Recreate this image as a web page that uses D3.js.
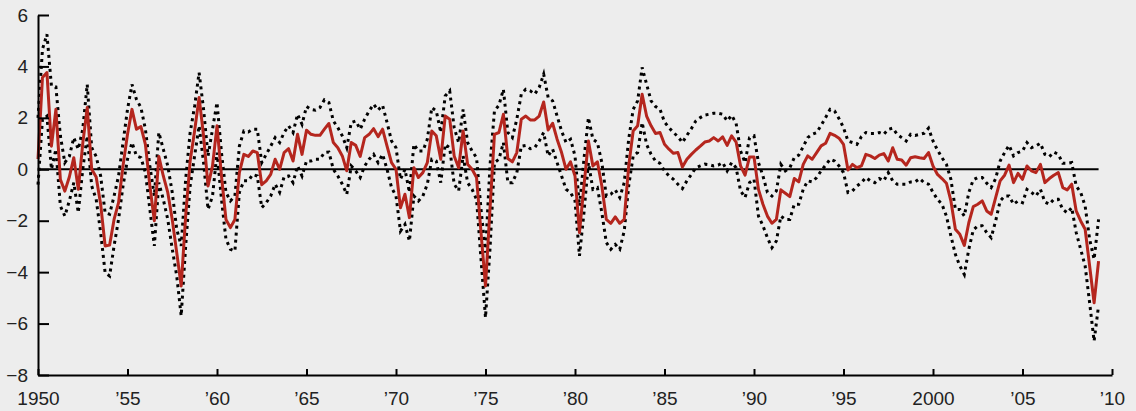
<!DOCTYPE html>
<html>
<head>
<meta charset="utf-8">
<script src="https://cdn.jsdelivr.net/npm/d3@7"></script>
<style>
  html, body { margin: 0; padding: 0; background: #ededed; }
  .canvas text { font-family: "Liberation Sans", Arial, sans-serif; font-size: 19px; fill: #222; }
</style>
</head>
<body>
<div class="canvas"></div>
<script>
// quarterly values, 1950 Q1 .. 2009 Q2 (four per row = one year)
const startYear = 1950

const central = [
  0.4, 3.57, 3.76, 0.9,
  2.33, -0.4, -0.85, -0.3,
  0.45, -0.78, 1.0, 2.4,
  0.0, -0.3, -1.36, -2.98,
  -2.95, -1.95, -1.3, 0.13,
  1.36, 2.33, 1.56, 1.66,
  0.97, -0.65, -2.0, 0.5,
  -0.26, -0.9, -1.95, -3.24,
  -4.54, -1.8, 0.32, 1.5,
  2.79, 1.3, -0.65, 0.13,
  1.69, -0.26, -1.95, -2.27,
  -1.95, -0.13, 0.58, 0.5,
  0.71, 0.65, -0.6, -0.45,
  -0.2, 0.39, 0.0, 0.65,
  0.8, 0.32, 1.36, 0.58,
  1.52, 1.36, 1.32, 1.32,
  1.56, 1.78, 1.04, 0.84,
  0.52, -0.06, 1.04, 0.93,
  0.5, 1.23, 1.36, 1.58,
  1.27, 1.56, 0.9, 0.26,
  0.0, -1.5, -0.97, -1.88,
  0.06, -0.32, -0.13, 0.26,
  1.49, 1.3, 0.39, 2.07,
  1.95, 0.52, 0.06, 1.49,
  0.2, 0.0, -0.32, -2.46,
  -4.54, -1.56, 1.36, 1.43,
  2.14, 0.42, 0.29, 0.65,
  1.95, 2.07, 1.92, 1.92,
  2.07, 2.62, 1.53, 1.79,
  1.17, 0.65, 0.0, 0.29,
  -0.26, -2.46, -0.65, 1.1,
  0.13, 0.29, -0.65, -1.95,
  -2.1, -1.85, -2.1, -1.95,
  0.13, 1.49, 1.69, 2.92,
  2.07, 1.69, 1.39, 1.43,
  0.97, 0.78, 0.62, 0.65,
  0.09, 0.39, 0.58, 0.75,
  0.9, 1.06, 1.1, 1.23,
  1.1, 1.26, 0.93, 1.3,
  1.06, 0.13, -0.23, 0.48,
  0.48, -0.78, -1.36, -1.82,
  -2.1, -1.95, -0.8, -0.93,
  -1.06, -0.36, -0.49, 0.19,
  0.52, 0.39, 0.65, 0.91,
  1.01, 1.4, 1.32, 1.21,
  0.97, -0.03, 0.19, 0.06,
  0.13, 0.58, 0.52, 0.42,
  0.55, 0.61, 0.32, 0.84,
  0.39, 0.36, 0.16, 0.45,
  0.49, 0.45, 0.42, 0.65,
  0.13, -0.2, -0.36, -0.54,
  -1.23, -2.33, -2.53, -2.96,
  -2.08, -1.45, -1.36, -1.23,
  -1.62, -1.75, -1.1, -0.45,
  -0.23, 0.16, -0.52, -0.16,
  -0.39, 0.13, -0.06, -0.13,
  0.19, -0.52, -0.36, -0.23,
  -0.13, -0.71, -0.8, -0.58,
  -1.62, -2.01, -2.33, -3.76,
  -5.19, -3.57
]

const upper = [
  2.0, 4.67, 5.25, 3.24,
  3.2, 1.3, 0.26, 0.5,
  1.23, 0.78, 1.56, 3.3,
  0.84, 0.5, -0.26, -1.69,
  -1.75, -1.04, -0.26, 1.04,
  2.33, 3.3, 2.72, 2.4,
  1.56, 0.13, -1.04, 1.43,
  0.78, 0.13, -0.9, -2.33,
  -2.98, -0.39, 1.43, 2.46,
  3.76, 2.33, 0.52, 1.56,
  2.6, 0.65, -0.9, -1.23,
  -1.04, 0.9, 1.49, 1.45,
  1.56, 1.56, 0.26, 0.58,
  0.9, 1.23, 1.04, 1.43,
  1.69, 1.43, 2.14, 1.75,
  2.44, 2.33, 2.3, 2.4,
  2.7, 2.6, 1.88, 1.62,
  1.3, 0.84, 1.82, 1.88,
  1.56, 1.95, 2.27, 2.53,
  2.3, 2.49, 1.82, 1.1,
  0.84, -0.39, 0.0, -0.9,
  0.97, 0.71, 0.71, 1.17,
  2.4, 2.27, 1.43, 2.85,
  3.05, 1.62, 1.04, 2.33,
  1.04, 0.71, 0.45, -1.56,
  -3.24, 0.13, 2.27, 2.49,
  3.11, 1.43, 1.23, 1.95,
  2.92, 3.11, 3.05, 2.92,
  3.18, 3.7, 2.79, 2.66,
  2.07, 1.49, 1.04, 1.17,
  0.52, -1.43, 0.39, 2.01,
  1.17, 1.04, 0.26, -1.04,
  -0.97, -0.8, -1.1, -0.52,
  1.17, 2.33, 2.66, 3.96,
  3.31, 2.66, 2.44, 2.33,
  1.84, 1.62, 1.43, 1.27,
  1.04, 1.32, 1.58, 1.88,
  2.01, 2.11, 2.14, 2.18,
  2.18, 2.14, 1.88, 2.1,
  1.79, 0.71, 0.26, 1.23,
  1.3, 0.26, -0.26, -0.9,
  -1.04, -0.84, 0.19, -0.06,
  0.06, 0.45, 0.55, 0.88,
  1.23, 1.36, 1.43, 1.71,
  2.01, 2.33, 2.27, 1.97,
  1.62, 1.1, 1.04, 0.97,
  1.27, 1.43, 1.39, 1.39,
  1.43, 1.36, 1.55, 1.6,
  1.36, 1.23, 1.1, 1.36,
  1.32, 1.36, 1.4, 1.6,
  1.1, 0.75, 0.45, 0.19,
  -0.39, -1.56, -1.56, -1.82,
  -0.9, -0.41, -0.32, -0.32,
  -0.54, -0.71, -0.36, 0.32,
  0.65, 0.93, 0.52, 0.65,
  0.71, 1.04, 0.84, 0.91,
  1.01, 0.58, 0.49, 0.67,
  0.58, 0.23, 0.23, 0.26,
  -0.65, -0.9, -1.43, -2.72,
  -3.5, -1.95
]

const lower = [
  -0.6, 1.95, 2.07, 0.0,
  0.78, -1.43, -1.82, -1.23,
  -0.52, -1.69, 0.0, 1.3,
  -0.65, -1.17, -2.46, -4.02,
  -4.15, -2.98, -1.95, -0.65,
  0.39, 1.04, 0.52, 0.45,
  -0.13, -1.56, -2.98, -0.52,
  -1.17, -1.95, -3.1, -4.15,
  -5.7, -2.98, -0.65, 0.52,
  1.69, 0.26, -1.56, -1.04,
  0.65, -1.17, -2.72, -3.11,
  -3.18, -0.9, -0.45, -0.45,
  -0.2, -0.26, -1.49, -1.3,
  -1.04, -0.58, -0.9, -0.29,
  -0.26, -0.52, 0.13, -0.26,
  0.32, 0.32, 0.39, 0.39,
  0.65, 0.67, 0.0, -0.26,
  -0.58, -0.97, 0.13, -0.06,
  -0.32, 0.13, 0.39, 0.58,
  0.26, 0.58, 0.0, -0.71,
  -1.04, -2.4, -2.14, -2.79,
  -1.04, -1.23, -1.04, -0.58,
  0.39, 0.32, -0.52, 0.97,
  0.84, -0.58, -0.84, 0.52,
  -0.52, -0.78, -1.17, -3.5,
  -5.77, -3.11, 0.26, 0.39,
  1.04, -0.52, -0.52, -0.13,
  0.9, 0.93, 0.8, 0.84,
  1.1, 1.43, 0.52, 0.78,
  0.26, -0.26, -0.78, -0.9,
  -1.23, -3.37, -1.69, 0.26,
  -0.78, -0.71, -1.69, -2.85,
  -3.11, -2.92, -3.11, -2.4,
  -0.65, 0.52, 0.65, 1.82,
  0.97, 0.58, 0.32, 0.23,
  -0.06, -0.26, -0.39, -0.58,
  -0.75, -0.45, -0.2, 0.06,
  0.13, 0.2, 0.18, 0.13,
  0.16, 0.26, -0.06, 0.26,
  0.06, -0.84, -1.1, -0.52,
  -0.39, -1.82, -2.2, -2.66,
  -3.05, -2.79, -1.82, -1.95,
  -1.95, -1.36, -1.36, -0.78,
  -0.45, -0.49, -0.32, -0.06,
  0.16, 0.39, 0.32, 0.13,
  -0.13, -0.9, -0.84, -0.65,
  -0.52, -0.32, -0.45, -0.52,
  -0.36, -0.45, -0.13, -0.45,
  -0.58, -0.58, -0.58, -0.49,
  -0.49, -0.36, -0.52, -0.58,
  -0.9, -1.17, -1.36, -1.82,
  -2.59, -3.31, -3.76, -4.09,
  -3.11, -2.36, -2.2, -2.2,
  -2.46, -2.66, -2.01, -1.23,
  -1.04, -1.04, -1.36, -1.23,
  -1.3, -0.78, -0.9, -1.04,
  -0.78, -1.27, -1.36, -1.17,
  -1.17, -1.56, -1.69, -1.49,
  -2.46, -3.11, -3.76, -5.19,
  -6.68, -5.3
]

const xTicks = [1950, 1955, 1960, 1965, 1970, 1975, 1980, 1985, 1990, 1995, 2000, 2005, 2010]
const xTickLabels = ["1950", "\u201955", "\u201960", "\u201965", "\u201970", "\u201975", "\u201980", "\u201985", "\u201990", "\u201995", "2000", "\u201905", "\u201910"]
const yTicks = [6, 4, 2, 0, -2, -4, -6, -8]

const width = 1136
const height = 411

const svg = d3.select(".canvas")
  .append("svg")
  .attr("width", width)
  .attr("height", height)

svg.append("rect").attr("width", width).attr("height", height).attr("fill", "#ededed")

const xScale = d3.scaleLinear().domain([1950, 2010]).range([38, 1112])
const yScale = d3.scaleLinear().domain([-8, 6]).range([375, 15])

const quarter = i => startYear + i / 4
const toPoints = arr => arr.map((v, i) => ({ t: quarter(i), v: v }))

// zero line across the data span
const lastT = quarter(central.length - 1)
svg.append("line")
  .attr("x1", xScale(1950)).attr("x2", xScale(lastT))
  .attr("y1", yScale(0)).attr("y2", yScale(0))
  .attr("stroke", "#000").attr("stroke-width", 2)

const line = d3.line().x(d => xScale(d.t)).y(d => yScale(d.v))

svg.append("path").attr("d", line(toPoints(upper)))
  .attr("fill", "none").attr("stroke", "#000").attr("stroke-width", 3)
  .attr("stroke-dasharray", "3,4")
svg.append("path").attr("d", line(toPoints(lower)))
  .attr("fill", "none").attr("stroke", "#000").attr("stroke-width", 3)
  .attr("stroke-dasharray", "3,4")
svg.append("path").attr("d", line(toPoints(central)))
  .attr("fill", "none").attr("stroke", "#b5261e").attr("stroke-width", 3)
  .attr("stroke-linejoin", "round")

// axes
const yAxis = d3.axisLeft(yScale)
  .tickValues(yTicks)
  .tickSizeInner(-11).tickSizeOuter(0)
  .tickPadding(10)
  .tickFormat(d => d < 0 ? "\u2212" + Math.abs(d) : d)

const xAxis = d3.axisBottom(xScale)
  .tickValues(xTicks)
  .tickSizeInner(-6).tickSizeOuter(0)
  .tickPadding(17)
  .tickFormat((d, i) => xTickLabels[i])

const yAxisGroup = svg.append("g")
  .attr("transform", `translate(${xScale(1950)},0)`)
  .call(yAxis)
const xAxisGroup = svg.append("g")
  .attr("transform", `translate(0,${yScale(-8)})`)
  .call(xAxis)

svg.selectAll(".domain, .tick line").attr("stroke", "#000").attr("stroke-width", 2)
svg.selectAll(".tick text").attr("fill", "#222").style("font-size", "19px")
  .style("font-family", "'Liberation Sans', Arial, sans-serif")
</script>
</body>
</html>
